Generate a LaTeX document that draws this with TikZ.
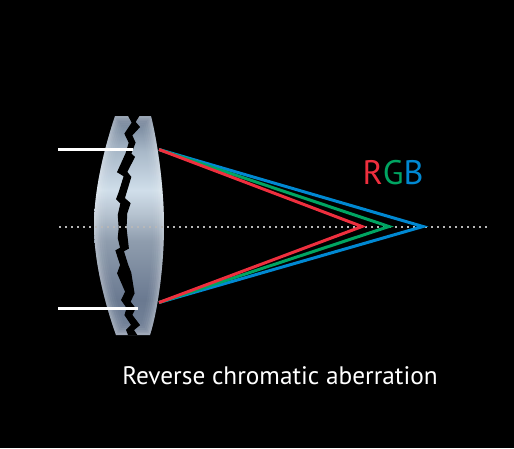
\documentclass[tikz,border=0pt]{standalone}
\usepackage{fontspec}
\setmainfont{PT Sans}
\definecolor{rayred}{HTML}{EE2F3E}
\definecolor{raygreen}{HTML}{00A562}
\definecolor{rayblue}{HTML}{0088D2}
\definecolor{lensA}{HTML}{D0DEEA}
\definecolor{lensB}{HTML}{6C7C92}
\definecolor{lensC}{HTML}{A8B8C8}
\definecolor{lensD}{HTML}{B5C2CF}
\definecolor{lensE}{HTML}{8F9DAE}
\definecolor{lensF}{HTML}{6A7990}
\definecolor{lensG}{HTML}{75849A}
\pgfdeclareverticalshading{lensbody}{100bp}{
  color(0bp)=(lensG);
  color(25bp)=(lensG);
  color(33bp)=(lensF);
  color(46.5bp)=(lensE);
  color(52.5bp)=(lensD);
  color(58bp)=(lensA);
  color(67bp)=(lensC);
  color(75bp)=(lensB);
  color(100bp)=(lensB)}
\tikzset{
  ray/.style={line width=3pt,line join=miter},
  stop/.style={draw=white,line width=3pt},
  axisline/.style={draw=white!72!black,line width=2pt,dash pattern=on 2pt off 4pt},
  caption/.style={text=white,inner sep=0pt,font=\fontsize{25.3}{30}\selectfont},
  letter/.style={inner sep=0pt,font=\fontsize{34}{38}\selectfont}
}
\begin{document}
\begin{tikzpicture}[x=1pt,y=-1pt]
\useasboundingbox (0,0) rectangle (514,448);
\fill[black] (0,0) rectangle (514,448);

% Lens body, with soft bright rims fading inward
\def\lensoutline{(115,116) -- (151,116) .. controls (157,140) and (164,185) .. (164,226)
  .. controls (164,265) and (158,310) .. (150,335) -- (116,335)
  .. controls (107,310) and (94,265) .. (94,226) .. controls (94,185) and (107,140) .. (115,116) -- cycle}
\begin{scope}
  \clip \lensoutline;
  \shade[shading=lensbody] (90,116) rectangle (170,335);
  \foreach \w/\o in {22/.03,18/.04,14/.05,10/.07,7/.08,4/.10}
    \draw[white,line width=\w pt,opacity=\o] \lensoutline;
  % Break through the middle of the lens
  \filldraw[black,line width=1.1pt,line join=miter] (128.3,115) -- (132.3,122.7) -- (125,133.7) -- (129.3,142.7) -- (126,153.7)
    -- (117.7,172) -- (124.3,176) -- (119.3,192) -- (116.7,199) -- (121,203.3) -- (118.3,215)
    -- (119.3,228) -- (118.3,238) -- (120.7,248) -- (116,250.7) -- (120.7,265) -- (117.7,273.3)
    -- (125.7,291.7) -- (121.7,300) -- (127.3,308) -- (125,315) -- (131.7,325) -- (126.7,330) -- (129,336)
    -- (137.3,336) -- (133.3,330) -- (139.3,325) -- (131.7,315) -- (135,308.3) -- (130,301.7)
    -- (134,293.3) -- (130.7,272.7) -- (127.7,265) -- (123.3,251) -- (128.3,248.3)
    -- (126,228) -- (126.7,213.3) -- (130,203.3) -- (124.3,198.3) -- (128.3,185) -- (130.7,177)
    -- (126.7,172) -- (134.3,157) -- (130.7,153.7) -- (135,142.7) -- (131.7,135.3) -- (139.3,127)
    -- (135,122) -- (139.3,115) -- cycle;
\end{scope}

% Entrance rays meeting the lens
\coordinate (topin) at (58,149);
\coordinate (topend) at (133,149);
\coordinate (botin) at (58,308);
\coordinate (botend) at (138,308);
\draw[stop] (topin) -- (topend);
\draw[stop] (botin) -- (botend);

% Optical axis
\coordinate (axisL) at (59,226.5);
\coordinate (axisR) at (487,226.5);
\draw[axisline] (axisL) -- (axisR);

% Focused rays for the three colours
\coordinate (upper) at (159,149.5);
\coordinate (lower) at (159,302.5);
\coordinate (fr) at (362,226.5);
\coordinate (fg) at (389,226.5);
\coordinate (fb) at (423,226.5);
\draw[ray,rayblue] (upper) -- (fb) -- (lower);
\draw[ray,raygreen] (upper) -- (fg) -- (lower);
\draw[ray,rayred] (upper) -- (fr) -- (lower);

% Labels
\node[letter,anchor=base west] (lblr) at (362.5,184) {\textcolor{rayred}{R}\textcolor{raygreen}{G}\textcolor{rayblue}{B}};
\node[caption,anchor=base] (cap) at (280,384) {Reverse chromatic aberration};
\end{tikzpicture}
\end{document}
